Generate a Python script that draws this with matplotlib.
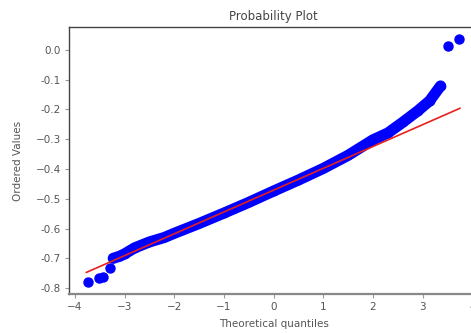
import numpy as np
import matplotlib
matplotlib.use("Agg")
import matplotlib.pyplot as plt

# dense band of ordered values
band_q = [-3.23, -3.1, -3.0, -2.8, -2.5, -2.2, -2.0, -1.5, -1.0, -0.5, 0.0, 0.5,
          1.0, 1.5, 2.0, 2.3, 2.6, 2.9, 3.14, 3.36]
band_v = [-0.700, -0.693, -0.685, -0.665, -0.645, -0.630, -0.616, -0.583, -0.548,
          -0.512, -0.474, -0.437, -0.398, -0.354, -0.302, -0.279, -0.243, -0.205,
          -0.171, -0.121]

# isolated points in the tails
tail_q = [-3.73, -3.51, -3.43, -3.30, 3.51, 3.73]
tail_v = [-0.779, -0.767, -0.764, -0.734, 0.0145, 0.036]

# least squares fit line
slope = 0.0733
intercept = -0.471
line_q = [-3.77, 3.75]

plt.rcParams['font.family'] = ['DejaVu Sans']
fig = plt.figure(figsize=(4.71, 3.33), dpi=100)
ax = fig.add_axes([0.1465, 0.117, 0.869, 0.802])

ax.plot(band_q, band_v, color='#0000ff', lw=8, solid_capstyle='round', zorder=2)
ax.plot(band_q, band_v, 'o', color='#0000ff', ms=6, zorder=2)
ax.plot(tail_q, tail_v, 'o', color='#0000ff', ms=6.5, zorder=2)
lq = np.array(line_q)
ax.plot(lq, intercept + slope * lq, color='#e8201c', lw=1.2, zorder=3)

ax.set_xlim(-4.12, 4.12)
ax.set_ylim(-0.82, 0.077)
ax.set_xticks(range(-4, 5))
ax.set_yticks([0.0, -0.1, -0.2, -0.3, -0.4, -0.5, -0.6, -0.7, -0.8])
ax.set_yticklabels(['0.0', '-0.1', '-0.2', '\u22120.3', '\u22120.4', '\u22120.5',
                    '-0.6', '-0.7', '-0.8'])
ax.set_xticklabels(['\u22124', '\u22123', '\u22122', '\u22121', '0', '1', '2', '3', '4'])

txt = '#555555'
ax.tick_params(direction='out', length=3, width=0.8, colors='#999999',
               labelcolor=txt, labelsize=7.5, pad=3)
for s in ['left', 'top']:
    ax.spines[s].set_color('#444444')
    ax.spines[s].set_linewidth(1.0)
ax.spines['bottom'].set_color('#888888')
ax.spines['bottom'].set_linewidth(1.6)

ax.set_title('Probability Plot', fontsize=8.5, color='#444444', pad=5)
ax.set_xlabel('Theoretical quantiles', fontsize=7.5, color=txt, labelpad=5)
ax.set_ylabel('Ordered Values', fontsize=7.5, color=txt, labelpad=9)

fig.savefig('out.png', dpi=100)
